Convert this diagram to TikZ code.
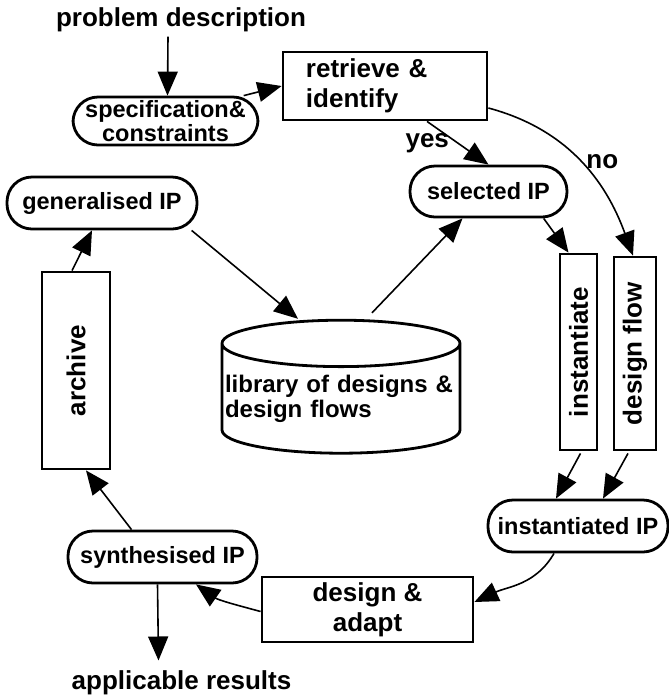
\documentclass[tikz,border=0pt]{standalone}
\usepackage{fontspec}
\setmainfont{Liberation Sans}
\usetikzlibrary{arrows.meta, calc, shapes.geometric}

\begin{document}
\begin{tikzpicture}[x=0.5pt, y=0.5pt,
  box/.style={draw, line width=1.4pt, inner sep=0pt,
              font=\bfseries\fontsize{13pt}{15pt}\selectfont},
  vbox/.style={box, rotate=90},
  pill/.style={draw, line width=1.4pt, rounded corners=12.5pt, inner sep=0pt,
               align=center, font=\bfseries\fontsize{11.75pt}{9pt}\selectfont},
  arr/.style={-{Triangle[length=12pt, width=10pt]}, line width=0.8pt},
  lbl/.style={font=\bfseries\fontsize{13pt}{15pt}\selectfont, inner sep=2pt}
]
  \useasboundingbox (0,0) rectangle (669,-698);

  \node[lbl] (prob) at (181,-20) {problem description};
  \node[pill, minimum width=92.5pt, minimum height=24pt] (spec) at (165.5,-121)
    {specification\&\\constraints};
  \node[box, minimum width=102pt, minimum height=34pt, text width=79pt, align=left]
    (retr) at (385,-86) {retrieve \&\\identify};
  \node[pill, minimum width=78.5pt, minimum height=25.5pt] (sel) at (488.5,-191.5) {selected IP};
  \node[pill, minimum width=95pt, minimum height=26pt] (gen) at (102,-203) {generalised IP};
  \node[vbox, minimum width=98pt, minimum height=18.5pt] (inst) at (578.5,-352) {instantiate};
  \node[vbox, minimum width=96.5pt, minimum height=21pt] (dflow) at (635,-353.5) {design flow};
  \node[vbox, minimum width=98.5pt, minimum height=34pt] (arch) at (76,-370.5) {archive};
  \node[cylinder, shape border rotate=90, draw, line width=1.4pt, aspect=0.2,
        minimum width=119pt, minimum height=66.5pt, inner sep=0pt,
        text width=116pt, align=left, font=\bfseries\fontsize{12pt}{12.5pt}\selectfont]
    (lib) at (341,-399) {library of designs \&\\design flows};
  \node[pill, minimum width=90pt, minimum height=26pt] (instip) at (578,-526) {instantiated IP};
  \node[box, minimum width=105.5pt, minimum height=32.5pt, align=center]
    (dad) at (367.5,-609.5) {design \&\\adapt};
  \node[pill, minimum width=94.5pt, minimum height=26pt] (synth) at (162.5,-557) {synthesised IP};
  \node[lbl] (res) at (181.5,-683) {applicable results};

  \draw[arr] ($(prob.south)+(-13,0)$) -- ($(spec.north)+(2,0)$);
  \draw[arr] (spec.18) -- (retr.west);
  \draw[arr] ($(retr.south)+(42,0)$) -- node[lbl, left=2pt] {yes} (sel.north);
  \draw[arr] ($(retr.east)+(0,-22)$) to[out=-15, in=110]
    node[lbl, pos=0.5, right=1pt] {no} ($(dflow.east)+(-2,0)$);
  \draw[arr] (sel.-26) -- ($(inst.east)+(-10,0)$);
  \draw[arr] ($(lib.north)+(31,6)$) -- ($(sel.south)+(-26,0)$);
  \draw[arr] (gen.-17) -- ($(lib.north)+(-43,0)$);
  \draw[arr] ($(arch.east)+(-4,0)$) -- ($(gen.south)+(-10,0)$);
  \draw[arr] ($(synth.north)+(-31,0)$) -- ($(arch.west)+(10,0)$);
  \draw[arr] ($(synth.south)+(-5,0)$) -- ($(res.north)+(-23,6)$);
  \draw[arr] ($(dad.west)+(0,-2)$) to[out=165, in=-35] ($(synth.south)+(33.5,0)$);
  \draw[arr] ($(instip.south)+(-24,0)$) to[out=-120, in=25] ($(dad.east)+(0,7.5)$);
  \draw[arr] ($(inst.west)+(2,-2)$) -- ($(instip.north)+(-22,0)$);
  \draw[arr] ($(dflow.west)+(-7,-2)$) -- ($(instip.north)+(25,0)$);
\end{tikzpicture}
\end{document}
